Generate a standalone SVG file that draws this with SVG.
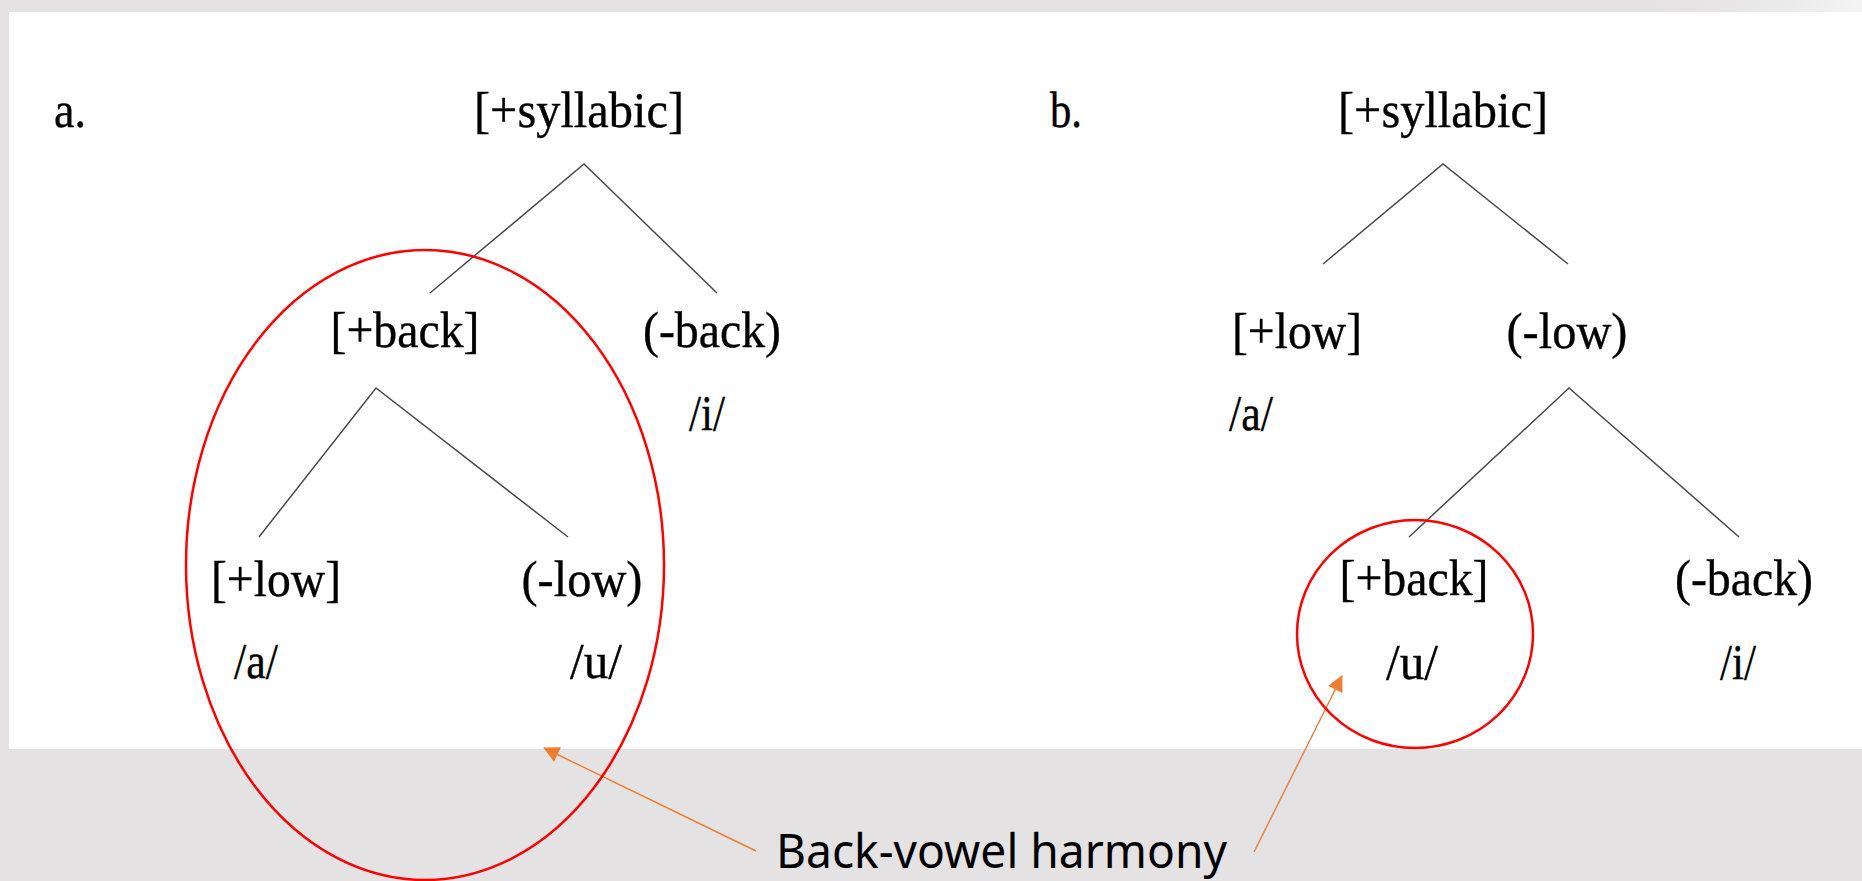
<svg xmlns="http://www.w3.org/2000/svg" width="1862" height="881" viewBox="0 0 1862 881">
<defs>
<style>
.t{font-family:"Liberation Serif","Times New Roman",serif;font-size:51px;fill:#000;stroke:#000;stroke-width:0.35;text-anchor:middle}
.lab{font-family:"Liberation Serif","Times New Roman",serif;font-size:51px;fill:#000;stroke:#000;stroke-width:0.35}
.br{stroke:#4a4a4a;stroke-width:1.5;fill:none}
.ring{stroke:#ff0000;stroke-width:2.5;fill:none}
.ar{stroke:#ed7d31;stroke-width:1.4;fill:none;marker-end:url(#ah)}
.note{font-family:"Noto Sans","Open Sans",sans-serif;font-size:47px;fill:#000}
</style>
<marker id="ah" viewBox="0 0 16 16" refX="15" refY="8" markerWidth="16" markerHeight="16" markerUnits="userSpaceOnUse" orient="auto" overflow="visible">
<path d="M0,0 L16,8 L0,16 z" fill="#ed7d31"/>
</marker>
<linearGradient id="sh" x1="0" y1="0" x2="1" y2="0">
<stop offset="0" stop-color="#e4e2e3" stop-opacity="0"/>
<stop offset="1" stop-color="#f4f4f4"/>
</linearGradient>
</defs>
<rect x="0" y="0" width="1862" height="881" fill="#e4e2e3"/>
<rect x="1600" y="0" width="262" height="12" fill="url(#sh)"/>
<rect x="9" y="12" width="1853" height="737" fill="#ffffff"/>

<g id="connectors">
<path class="br" d="M430,293 L584,164 L717,293"/>
<path class="br" d="M259,537 L376,388 L568,537"/>
<path class="br" d="M1323,264 L1443,164 L1568,264"/>
<path class="br" d="M1409,537 L1569,388 L1739,537"/>
<line class="ar" x1="756" y1="851" x2="544" y2="748"/>
<line class="ar" x1="1254" y1="852" x2="1342" y2="676"/>
</g>

<g id="tree-a">
<text id="label-a" class="lab" x="54" y="127" textLength="32" lengthAdjust="spacingAndGlyphs">a.</text>
<g id="a-syllabic"><text class="t" x="579" y="127" textLength="210" lengthAdjust="spacingAndGlyphs">[+syllabic]</text></g>
<g id="a-back"><text class="t" x="405" y="347" textLength="149" lengthAdjust="spacingAndGlyphs">[+back]</text></g>
<g id="a-nback"><text class="t" x="712" y="347" textLength="138" lengthAdjust="spacingAndGlyphs">(-back)</text>
<text class="t" x="707" y="430" textLength="36" lengthAdjust="spacingAndGlyphs">/i/</text></g>
<g id="a-low"><text class="t" x="276" y="596" textLength="130" lengthAdjust="spacingAndGlyphs">[+low]</text>
<text class="t" x="256" y="678" textLength="44" lengthAdjust="spacingAndGlyphs">/a/</text></g>
<g id="a-nlow"><text class="t" x="582" y="596" textLength="121" lengthAdjust="spacingAndGlyphs">(-low)</text>
<text class="t" x="596" y="678" textLength="52" lengthAdjust="spacingAndGlyphs">/u/</text></g>
<ellipse id="a-ring" class="ring" cx="425" cy="565" rx="239" ry="315"/>
</g>

<g id="tree-b">
<text id="label-b" class="lab" x="1050" y="127" textLength="32" lengthAdjust="spacingAndGlyphs">b.</text>
<g id="b-syllabic"><text class="t" x="1443" y="127" textLength="210" lengthAdjust="spacingAndGlyphs">[+syllabic]</text></g>
<g id="b-low"><text class="t" x="1297" y="348" textLength="130" lengthAdjust="spacingAndGlyphs">[+low]</text>
<text class="t" x="1251" y="430" textLength="44" lengthAdjust="spacingAndGlyphs">/a/</text></g>
<g id="b-nlow"><text class="t" x="1567" y="348" textLength="121" lengthAdjust="spacingAndGlyphs">(-low)</text></g>
<g id="b-back"><text class="t" x="1414" y="595" textLength="149" lengthAdjust="spacingAndGlyphs">[+back]</text>
<text class="t" x="1412" y="679" textLength="52" lengthAdjust="spacingAndGlyphs">/u/</text></g>
<g id="b-nback"><text class="t" x="1744" y="595" textLength="138" lengthAdjust="spacingAndGlyphs">(-back)</text>
<text class="t" x="1738" y="679" textLength="36" lengthAdjust="spacingAndGlyphs">/i/</text></g>
<ellipse id="b-ring" class="ring" cx="1415" cy="634" rx="118" ry="114"/>
</g>

<g id="note"><text class="note" x="776" y="868" textLength="451" lengthAdjust="spacingAndGlyphs">Back-vowel harmony</text></g>
</svg>
